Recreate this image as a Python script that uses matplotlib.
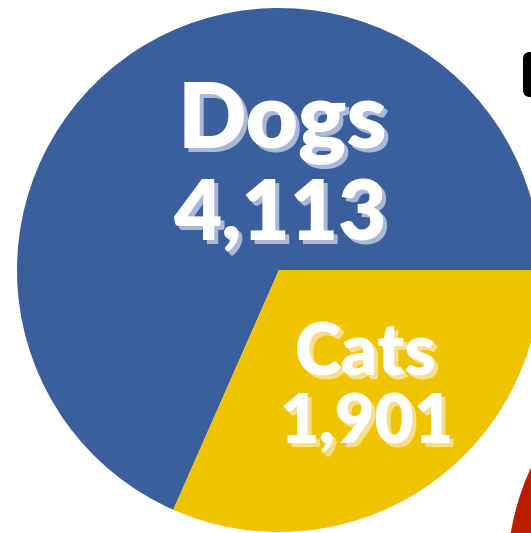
import matplotlib
matplotlib.use("Agg")
import matplotlib.pyplot as plt
from matplotlib.patches import Circle, FancyBboxPatch

# Data
categories = ["Dogs", "Cats"]
values = [4113, 1901]
colors = ["#3B5E9C", "#F0C300"]
shadow_colors = ["#A9B8DA", "#F7DE8C"]

W, H = 531, 533
fig = plt.figure(figsize=(W / 100, H / 100), dpi=100)
ax = fig.add_axes([0, 0, 1, 1])

cx, cy, r = 279, H - 270, 262
ax.pie(values, colors=colors, startangle=0, counterclock=True,
       center=(cx, cy), radius=r, wedgeprops=dict(linewidth=0))

# neighbouring elements partly visible at the right edge
ax.add_patch(Circle((769, H - 577), 262, color="#BC1C00", lw=0))
ax.add_patch(FancyBboxPatch((523, H - 97), 20, 45,
                            boxstyle="round,pad=0,rounding_size=7",
                            color="black", lw=0))

ax.set_xlim(0, W)
ax.set_ylim(0, H)
ax.set_aspect("equal")
ax.axis("off")

def label(x, y, s, size, shadow, stretch="normal"):
    ax.text(x + 4, y - 4, s, ha="center", va="baseline", fontsize=size,
            fontweight="heavy", family="Lato", color=shadow)
    ax.text(x, y, s, ha="center", va="baseline", fontsize=size,
            fontweight="heavy", family="Lato", color="white")

label(282, H - 148, categories[0], 65, shadow_colors[0])
label(280, H - 240, f"{values[0]:,}", 60, shadow_colors[0])
label(366, H - 375, categories[1], 51, shadow_colors[1])
label(367, H - 443, f"{values[1]:,}", 49, shadow_colors[1])

fig.savefig("out.png", dpi=100)
